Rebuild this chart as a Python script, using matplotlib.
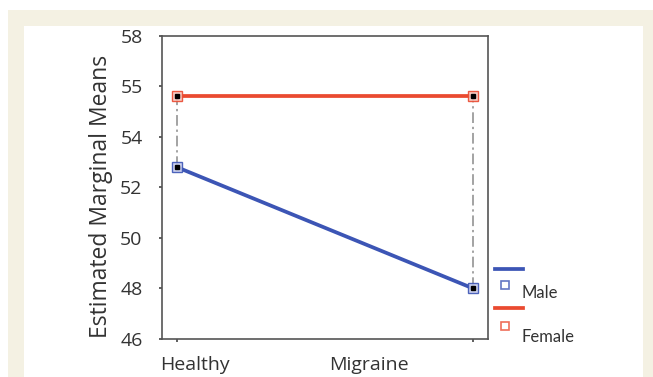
import matplotlib
matplotlib.use("Agg")
import matplotlib.pyplot as plt
from matplotlib.patches import Rectangle
from matplotlib.lines import Line2D
import matplotlib.transforms as mtransforms

# Estimated marginal means by group and sex
categories = ["Healthy", "Migraine"]
male_means = [52.8, 48.0]
female_means = [55.62, 55.62]
series_names = ["Male", "Female"]
y_ticks = [46, 48, 50, 52, 54, 56, 58]
y_tick_labels = ["46", "48", "50", "52", "54", "55", "58"]

blue = "#3c55b5"
red = "#ea4a30"
text_color = "#333333"
font = ["Lato", "DejaVu Sans"]

plt.rcParams["font.family"] = font

fig = plt.figure(figsize=(6.53, 3.77), dpi=100)
fig.patch.set_facecolor("white")

# page frame: beige band around a white panel
fig.patches.append(Rectangle((8 / 653, 0), 1 - 8 / 653, 1 - 10 / 377,
                             transform=fig.transFigure, facecolor="#f4f1e3",
                             edgecolor="none", zorder=-2))
fig.patches.append(Rectangle((24 / 653, 0), (643 - 24) / 653, 1 - 26 / 377,
                             transform=fig.transFigure, facecolor="white",
                             edgecolor="none", zorder=-1))

ax = fig.add_axes([162 / 653, 38 / 377, 326 / 653, 303.3 / 377])
ax.set_facecolor("white")

x = list(range(len(categories)))

# vertical dash-dot connectors between the two sexes at each group
for xi, m, f in zip(x, male_means, female_means):
    ax.plot([xi, xi], [m, f], color="#8a8a8a", lw=1.1,
            dashes=(7, 2.5, 1.5, 2.5), zorder=2)

ax.plot(x, male_means, color=blue, lw=2.7, solid_capstyle="butt", zorder=3)
ax.plot(x, female_means, color=red, lw=2.7, solid_capstyle="butt", zorder=3)

for vals, c, fc in [(male_means, blue, "#c9cfee"), (female_means, red, "#f7c9c0")]:
    ax.plot(x, vals, ls="none", marker="s", ms=7.5, mfc=fc, mec=c, mew=1.0,
            alpha=0.9, zorder=4)
    ax.plot(x, vals, ls="none", marker="s", ms=3.2, mfc="black", mec="black",
            zorder=5)

ax.set_xlim(-0.05, 1.05)
ax.set_ylim(46, 58)
ax.set_yticks(y_ticks)
ax.set_yticklabels(y_tick_labels)
ax.set_xticks(x)
ax.set_xticklabels(categories)

ax.tick_params(axis="both", direction="out", length=2, width=1.2,
               colors="#444444", labelcolor=text_color, labelsize=14)
ax.tick_params(axis="y", pad=12)
ax.tick_params(axis="x", pad=10)
for lab in ax.get_xticklabels() + ax.get_yticklabels():
    lab.set_family(["Open Sans", "DejaVu Sans"])

# category labels sit off their tick marks
shifts = [18, -104]
for lab, dx in zip(ax.get_xticklabels(), shifts):
    lab.set_transform(lab.get_transform() +
                      mtransforms.ScaledTranslation(dx / 100, 0, fig.dpi_scale_trans))

for sp in ax.spines.values():
    sp.set_color("#555555")
    sp.set_linewidth(1.2)

ax.set_ylabel("Estimated Marginal Means", fontsize=16.5, color=text_color,
              family=["Open Sans", "DejaVu Sans"])
ax.yaxis.set_label_coords(-0.15, 0.47)

# legend: line sample, marker sample, then name
colors = [blue, red]
line_y = [0.2308, 0.102]
marker_dy = [0.053, 0.059]
text_dy = [0.078, 0.097]
for name, c, ly, mdy, tdy in zip(series_names, colors, line_y, marker_dy, text_dy):
    ax.add_line(Line2D([1.021, 1.107], [ly, ly], transform=ax.transAxes,
                       color=c, lw=2.7, clip_on=False))
    ax.add_line(Line2D([1.052], [ly - mdy], transform=ax.transAxes,
                       ls="none", marker="s", ms=6, mfc="white", mec=c,
                       mew=1.2, alpha=0.8, clip_on=False))
    ax.text(1.102, ly - tdy, name, transform=ax.transAxes, fontsize=12,
            color=text_color, ha="left", va="center")

fig.savefig("out.png", dpi=100, facecolor=fig.get_facecolor())
